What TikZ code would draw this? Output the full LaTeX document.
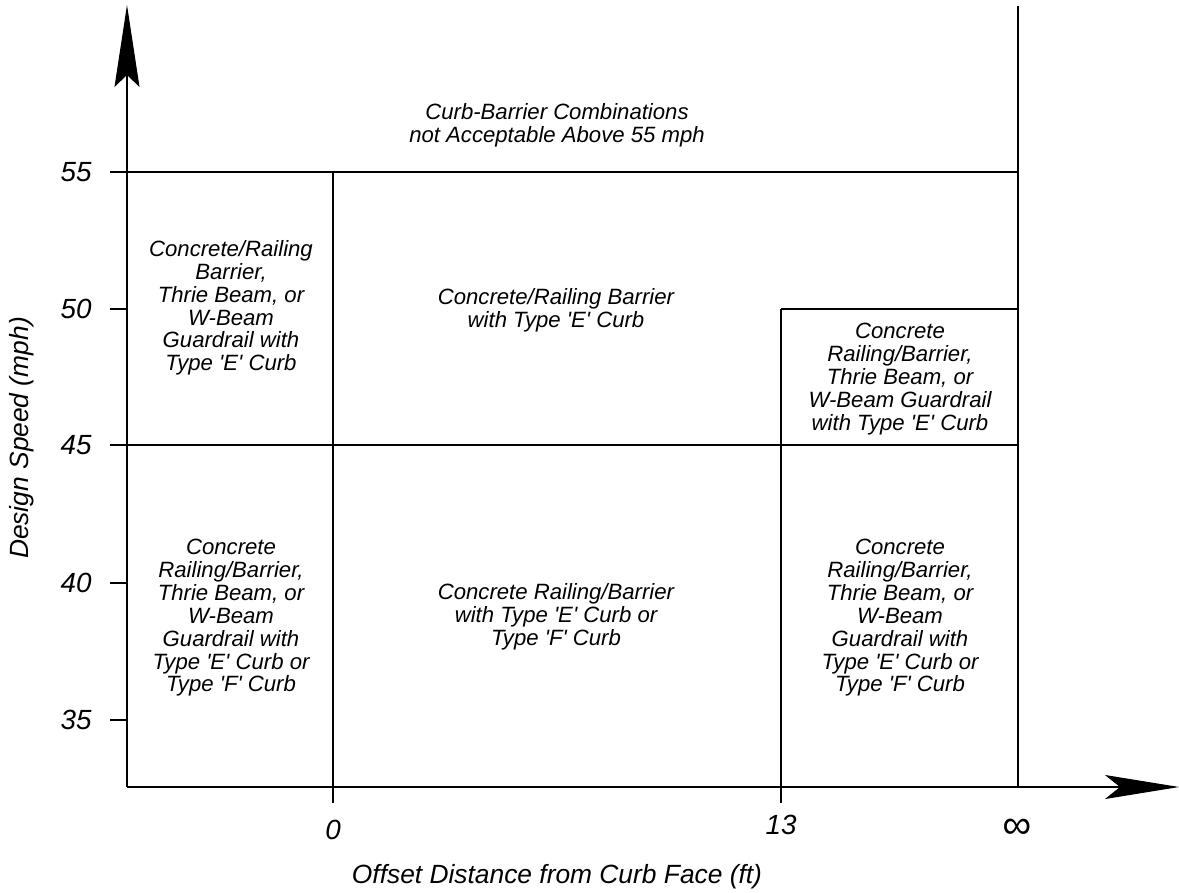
\documentclass[tikz,border=0pt]{standalone}
\usepackage{fontspec}
\setmainfont{Liberation Sans}
\usetikzlibrary{arrows.meta}
\newcommand{\tq}{\textquotesingle}
\tikzset{
  cell/.style={align=center, inner sep=0pt, font={\fontsize{12.6}{13}\selectfont\itshape}},
  num/.style={inner sep=0pt, font={\fontsize{15.8}{18}\selectfont\itshape}},
  axtitle/.style={inner sep=0pt, font={\fontsize{15}{18}\selectfont\itshape}},
  yarrow/.style={-{Stealth[length=1.64cm, width=0.5cm, inset=0.24cm]}},
  xarrow/.style={-{Stealth[length=1.48cm, width=0.48cm, inset=0.3cm]}}
}
\begin{document}
\begin{tikzpicture}[x=0.02cm, y=-0.02cm, line width=0.6pt]
  \useasboundingbox (0,0) rectangle (1179,892);

  % Axis lines
  \coordinate (o) at (127,787);
  \coordinate (ytip) at (127,5);
  \coordinate (xtip) at (1179,787);
  \draw[yarrow] (o) -- (ytip);
  \draw[xarrow] (o) -- (xtip);

  % Speed ticks and labels
  \foreach \v/\y in {55/172, 50/309, 45/445, 40/583, 35/720} {
    \draw (110,\y) -- (127,\y);
    \node[num, anchor=east] (y\v) at (92,\y) {\v};
  }

  % Region boundaries
  \coordinate (a55) at (127,172);  \coordinate (b55) at (1018,172);
  \coordinate (a45) at (127,445);  \coordinate (b45) at (1018,445);
  \coordinate (c50) at (781,309);  \coordinate (d50) at (1018,309);
  \coordinate (z0) at (333,172);   \coordinate (zb) at (333,803);
  \coordinate (tb) at (781,803);
  \coordinate (itop) at (1018,6);  \coordinate (ibot) at (1018,787);
  \draw (a55) -- (b55);
  \draw (a45) -- (b45);
  \draw (c50) -- (d50);
  \draw (z0) -- (zb);
  \draw (c50) -- (tb);
  \draw (itop) -- (ibot);

  % Offset labels
  \node[num] (x0) at (333,830) {0};
  \node[num] (x13) at (781,825) {13};
  \node[num, font={\fontsize{23}{26}\selectfont\itshape}] (xinf) at (1017,829) {∞};

  % Axis titles
  \node[axtitle, rotate=90] (ytitle) at (22,438) {Design Speed (mph)};
  \node[axtitle] (xtitle) at (557,877) {Offset Distance from Curb Face (ft)};

  % Region texts
  \node[cell] (top) at (557,125) {Curb-Barrier Combinations\\not Acceptable Above 55 mph};
  \node[cell] (ul) at (231,308) {Concrete/Railing\\Barrier,\\Thrie Beam, or\\W-Beam\\Guardrail with\\Type \tq E\tq{} Curb};
  \node[cell] (um) at (556,310) {Concrete/Railing Barrier\\with Type \tq E\tq{} Curb};
  \node[cell] (ur) at (900,379) {Concrete\\Railing/Barrier,\\Thrie Beam, or\\W-Beam Guardrail\\with Type \tq E\tq{} Curb};
  \node[cell] (ll) at (231,618) {Concrete\\Railing/Barrier,\\Thrie Beam, or\\W-Beam\\Guardrail with\\Type \tq E\tq{} Curb or\\Type \tq F\tq{} Curb};
  \node[cell] (lm) at (556,617) {Concrete Railing/Barrier\\with Type \tq E\tq{} Curb or\\Type \tq F\tq{} Curb};
  \node[cell] (lr) at (900,618) {Concrete\\Railing/Barrier,\\Thrie Beam, or\\W-Beam\\Guardrail with\\Type \tq E\tq{} Curb or\\Type \tq F\tq{} Curb};
\end{tikzpicture}
\end{document}
